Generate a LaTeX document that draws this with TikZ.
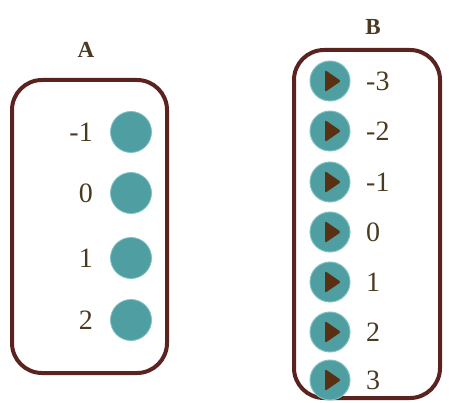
\documentclass[tikz,border=0pt]{standalone}
\usepackage{fontspec}
\setmainfont{Liberation Serif}
\definecolor{boxc}{HTML}{5A2320}
\definecolor{teal1}{HTML}{4E9EA2}
\definecolor{teal2}{HTML}{7FC0C4}
\definecolor{tri}{HTML}{5A3012}
\definecolor{txt}{HTML}{4A3A22}
\begin{document}
\begin{tikzpicture}[x=1pt,y=-1pt,
  frame/.style={draw=boxc,line width=4pt,rounded corners=30pt},
  dotA/.style={circle,fill=teal1,draw=teal2,line width=0.8pt,minimum size=41pt,inner sep=0pt},
  dotB/.style={circle,fill=teal1,draw=teal2,line width=1pt,minimum size=40pt,inner sep=0pt},
  lab/.style={text=txt,font=\fontsize{28}{28}\selectfont,inner sep=0pt},
  title/.style={text=txt,font=\bfseries\fontsize{23}{23}\selectfont,inner sep=0pt}]
\useasboundingbox (0,0) rectangle (449,403);
% Box A
\node[title] (tA) at (86,50) {A};
\draw[frame] (12,80) rectangle (167,373);
\foreach \v/\y [count=\i] in {-1/132,0/193,1/258,2/320}{
  \node[dotA] (a\i) at (131,\y) {};
  \node[lab,anchor=east] (la\i) at (93,\y) {\v};
}
% Box B
\node[title] (tB) at (373,27) {B};
\draw[frame] (294,50) rectangle (440,398);
\foreach \v/\y [count=\i] in {-3/81,-2/131,-1/182,0/232,1/282,2/332,3/380}{
  \node[dotB] (b\i) at (330,\y) {};
  \fill[tri,rounded corners=2pt] ([shift={(-5,-11)}]b\i.center) -- ([shift={(11,0)}]b\i.center) -- ([shift={(-5,11)}]b\i.center) -- cycle;
  \node[lab,anchor=west] (lb\i) at (366,\y) {\v};
}
\end{tikzpicture}
\end{document}
